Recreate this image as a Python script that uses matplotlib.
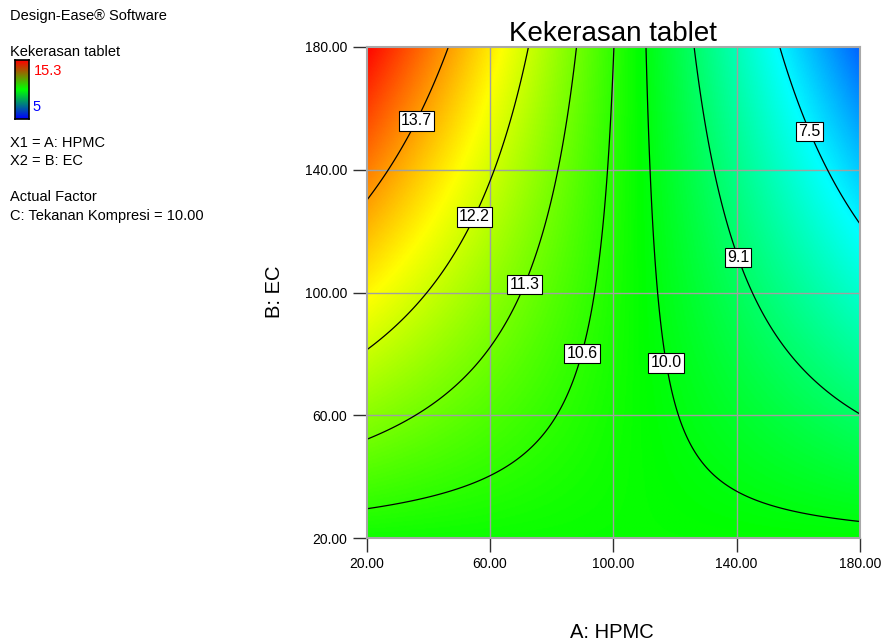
import numpy as np
import matplotlib.pyplot as plt
from matplotlib.colors import LinearSegmentedColormap

plt.rcParams['font.family'] = ['Liberation Sans', 'DejaVu Sans']

# contour levels and points (A: HPMC, B: EC)
levels = [7.5, 9.1, 10.0, 10.6, 11.3, 12.2, 13.7]
pts_A = {
    13.7: [46.4, 35.0, 20.0],
    12.2: [73.3, 61.6, 54.5, 40.6, 20.0],
    11.3: [88.6, 82.7, 71.0, 55.5, 52.5, 37.3, 20.0],
    10.6: [100.5, 97.5, 96.7, 93.1, 88.2, 80.5, 60.0, 20.0],
    10.0: [110.5, 111.9, 113.8, 116.8, 119.7, 140.0, 180.0],
    9.1: [127.0, 133.0, 135.2, 141.7, 146.0, 166.0, 180.0],
    7.5: [153.0, 163.8, 168.3, 180.0],
}
pts_B = {
    13.7: [180.0, 156.5, 130.4],
    12.2: [180.0, 140.0, 124.9, 100.0, 80.4],
    11.3: [180.0, 140.0, 102.7, 74.7, 71.5, 60.0, 51.3],
    10.6: [180.0, 140.0, 130.0, 100.0, 80.6, 60.0, 41.5, 30.4],
    10.0: [180.0, 140.0, 100.0, 77.0, 60.0, 34.7, 25.2],
    9.1: [180.0, 140.0, 130.0, 111.9, 100.0, 71.5, 61.4],
    7.5: [180.0, 152.6, 140.0, 122.0],
}
# where the value boxes sit
label_pos = [(35.0, 156.5), (54.5, 124.9), (71.0, 102.7), (88.2, 80.6),
             (116.8, 77.0), (141.7, 111.9), (163.8, 152.6)]

ticks = [20, 60, 100, 140, 180]
resp_min, resp_max = 5, 15.3


def terms(a, b):
    # quadratic model in coded units (-1..1)
    x1 = (np.asarray(a, float) - 100) / 80
    x2 = (np.asarray(b, float) - 100) / 80
    return np.stack([np.ones_like(x1), x1, x2, x1 * x2, x1 ** 2, x2 ** 2], axis=-1)


# response surface fitted through the contour points
A_all = np.concatenate([pts_A[v] for v in levels])
B_all = np.concatenate([pts_B[v] for v in levels])
y_all = np.concatenate([[v] * len(pts_A[v]) for v in levels])
coef, *_ = np.linalg.lstsq(terms(A_all, B_all), y_all, rcond=None)

ga = np.linspace(20, 180, 400)
gb = np.linspace(20, 180, 400)
GA, GB = np.meshgrid(ga, gb)
Z = terms(GA, GB) @ coef

rainbow = LinearSegmentedColormap.from_list(
    'de', ['#0000ff', '#00ffff', '#00ff00', '#ffff00', '#ff0000'])
legend_cm = LinearSegmentedColormap.from_list('leg', ['#0000ff', '#00ff00', '#ff0000'])

W, H = 884, 643
fig = plt.figure(figsize=(W / 100, H / 100), dpi=100)
ax = fig.add_axes([366.5 / W, 1 - 538 / H, 493.5 / W, 491 / H])

ax.imshow(Z, origin='lower', extent=[20, 180, 20, 180], cmap=rainbow,
          vmin=resp_min, vmax=resp_max, aspect='auto', interpolation='bilinear', zorder=0)
for t in ticks[1:-1]:
    ax.axvline(t, color='#a0a0a0', lw=1, zorder=1)
    ax.axhline(t, color='#a0a0a0', lw=1, zorder=1)
cs = ax.contour(GA, GB, Z, levels=levels, colors='black', linewidths=0.9, zorder=2)
lbls = ax.clabel(cs, fmt='%.1f', manual=label_pos, inline=False, fontsize=11.5)
for t in lbls:
    t.set_rotation(0)
    t.set_bbox(dict(boxstyle='square,pad=0.14', fc='white', ec='black', lw=0.8))
    t.set_zorder(3)

ax.set_xlim(20, 180)
ax.set_ylim(20, 180)
ax.set_xticks(ticks)
ax.set_yticks(ticks)
ax.set_xticklabels(['%.2f' % t for t in ticks])
ax.set_yticklabels(['%.2f' % t for t in ticks])
ax.tick_params(direction='out', length=10, width=1, color='#303030', labelsize=10, pad=4)
for s in ax.spines.values():
    s.set_color('#a8a8a8')
    s.set_linewidth(1.5)

ax.set_title('Kekerasan tablet', fontsize=20, pad=4)
fig.text(611.6 / W, 1 - 632 / H, 'A: HPMC', fontsize=14.5, ha='center', va='center')
fig.text(275 / W, 1 - 292 / H, 'B: EC', fontsize=14.5, ha='center', va='center', rotation=90)


# legend block on the left
def ltext(x, y, s, **kw):
    fig.text(x / W, 1 - y / H, s, fontsize=10.5, va='center', **kw)


ltext(10, 16, 'Design-Ease® Software')
ltext(10, 52, 'Kekerasan tablet')
ltext(10, 143, 'X1 = A: HPMC')
ltext(10, 161, 'X2 = B: EC')
ltext(10, 197, 'Actual Factor')
ltext(10, 216, 'C: Tekanan Kompresi = 10.00')
ltext(34, 71, '%g' % resp_max, color='#ff0000')
ltext(32, 107, '%g' % resp_min, color='#0000ff')

cax = fig.add_axes([15 / W, 1 - 119 / H, 14 / W, 59 / H])
cax.imshow(np.linspace(0, 1, 100)[:, None], origin='lower', cmap=legend_cm, aspect='auto')
cax.set_xticks([])
cax.set_yticks([])
for s in cax.spines.values():
    s.set_color('black')
    s.set_linewidth(1.2)

fig.savefig('out.png', dpi=100)
